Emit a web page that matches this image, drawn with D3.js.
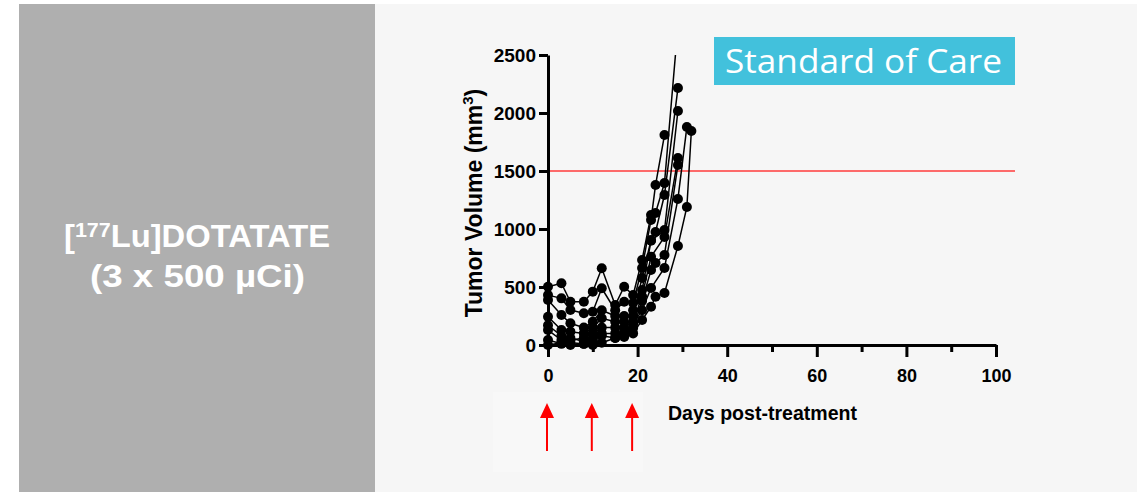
<html>
<head>
<title>Standard of Care tumor growth</title>
<style>
  body { margin: 0; background: #ffffff; }
  text { font-family: "Liberation Sans", Arial, sans-serif; }
</style>
</head>
<body>
<svg id="container" width="1143" height="492"></svg>
<script src="https://cdn.jsdelivr.net/npm/d3@7"></script>
<script>
// measurement days (x) and tumour volumes (mm3) per mouse, null = not measured
const days = [0, 3, 5, 8, 10, 12, 15, 17, 19, 21, 23, 24, 26, 29, 31, 32]
const mouse1 = [502, 532, 373, 373, 460, 661, 345, 502, 431, 733, 1121, 1138, 1396, 2750, null, null]
const mouse2 = [430, 402, 302, 273, 287, 489, 300, 373, 362, 664, 1078, 1379, 1810, null, null, null]
const mouse3 = [388, 259, 187, 150, 200, 300, 250, 250, 250, 578, 905, 974, 1293, 2215, null, null]
const mouse4 = [244, 129, 115, 100, 150, 230, 200, 200, 300, 474, 899, null, 991, 2017, null, null]
const mouse5 = [129, 43, 40, 60, 100, 150, 150, 150, 200, 420, 761, null, 931, 1612, null, null]
const mouse6 = [43, 10, 20, 10, 40, 80, 60, 120, 147, 380, 647, 707, 776, 1552, null, null]
const mouse7 = [170, 80, 60, 30, 60, 100, 100, 100, 180, 300, 491, null, 664, 1259, 1880, null]
const mouse8 = [0, 20, 0, 10, 0, 20, 60, 69, 100, 215, 330, 416, 448, 853, 1190, 1845]
const mice = [mouse1, mouse2, mouse3, mouse4, mouse5, mouse6, mouse7, mouse8]

const yTicks = [0, 500, 1000, 1500, 2000, 2500]
const xTicks = [0, 20, 40, 60, 80, 100]
const xMinorTicks = [10, 30, 50, 70, 90]
const doseDays = [0, 10, 19]
const threshold = 1500

const title = "Standard of Care"
const xLabel = "Days post-treatment"

let svg = d3.select("#container")

// panels
svg.append("rect").attr("x", 375).attr("y", 4).attr("width", 762).attr("height", 488).attr("fill", "#f6f6f6")
svg.append("rect").attr("x", 19).attr("y", 4).attr("width", 356).attr("height", 488).attr("fill", "#afafaf")
svg.append("rect").attr("x", 493).attr("y", 392).attr("width", 150).attr("height", 80).attr("fill", "#f8f8f8")

let left = svg.append("text")
    .attr("x", 64).attr("y", 247)
    .attr("textLength", 266)
    .attr("lengthAdjust", "spacingAndGlyphs")
    .attr("fill", "#ffffff")
    .style("font-size", "32px")
    .style("font-weight", "bold")
left.append("tspan").text("[")
left.append("tspan").attr("dy", -10).style("font-size", "21px").text("177")
left.append("tspan").attr("dy", 10).text("Lu]DOTATATE")
svg.append("text")
    .attr("x", 90).attr("y", 287)
    .attr("textLength", 215)
    .attr("lengthAdjust", "spacingAndGlyphs")
    .attr("fill", "#ffffff")
    .style("font-size", "32px")
    .style("font-weight", "bold")
    .text("(3 x 500 \u00b5Ci)")

// scales
let x = d3.scaleLinear().domain([0, 100]).range([548, 996])
let y = d3.scaleLinear().domain([0, 2500]).range([345, 55])

// threshold line
svg.append("line")
    .attr("x1", x(0)).attr("x2", 1015)
    .attr("y1", y(threshold)).attr("y2", y(threshold))
    .attr("stroke", "#ff3b3b").attr("stroke-width", 1.5)

// title box
svg.append("rect").attr("x", 714).attr("y", 37).attr("width", 301).attr("height", 48).attr("fill", "#42c1dc")
svg.append("text")
    .attr("x", 725).attr("y", 73)
    .attr("fill", "#ffffff")
    .attr("textLength", 277)
    .attr("lengthAdjust", "spacingAndGlyphs")
    .style("font-family", "'Open Sans', 'Noto Sans', sans-serif")
    .style("font-size", "33px")
    .text(title)

// data
svg.append("clipPath").attr("id", "plotclip")
    .append("rect").attr("x", 530).attr("y", y(2500)).attr("width", 480).attr("height", 300)

let plot = svg.append("g").attr("clip-path", "url(#plotclip)")
let line = d3.line().x(d => x(d.day)).y(d => y(d.v))
let series = mice.map(m => days.map((d, i) => ({ day: d, v: m[i] })).filter(p => p.v !== null))

plot.selectAll(".mouse")
    .data(series)
    .enter()
    .append("path")
    .attr("d", line)
    .attr("fill", "none")
    .attr("stroke", "#000")
    .attr("stroke-width", 1.5)

plot.selectAll(".dot")
    .data(series.flat())
    .enter()
    .append("circle")
    .attr("cx", d => x(d.day))
    .attr("cy", d => y(d.v))
    .attr("r", 5)
    .attr("fill", "#000")

// axes
let yAxis = svg.append("g")
    .attr("transform", `translate(${x(0)},0)`)
    .call(d3.axisLeft(y).tickValues(yTicks).tickFormat(d3.format("d")).tickSize(9).tickSizeOuter(0).tickPadding(3))
let xAxis = svg.append("g")
    .attr("transform", `translate(0,${y(0)})`)
    .call(d3.axisBottom(x).tickValues(xTicks).tickSize(12).tickSizeOuter(0).tickPadding(12))
let xMinor = svg.append("g")
    .attr("transform", `translate(0,${y(0)})`)
    .call(d3.axisBottom(x).tickValues(xMinorTicks).tickSize(7).tickFormat(""))
xMinor.select(".domain").remove()

svg.selectAll(".domain, .tick line").attr("stroke", "#000").attr("stroke-width", 3)
yAxis.selectAll("text").style("font-size", "19px").style("font-weight", "bold").attr("fill", "#000")
xAxis.selectAll("text").style("font-size", "18px").style("font-weight", "bold").attr("fill", "#000")

let yTitle = svg.append("text")
    .attr("transform", "translate(482,203) rotate(-90)")
    .attr("text-anchor", "middle")
    .style("font-size", "23px")
    .style("font-weight", "bold")
yTitle.append("tspan").text("Tumor Volume (mm")
yTitle.append("tspan").attr("dy", -9).style("font-size", "15px").text("3")
yTitle.append("tspan").attr("dy", 9).text(")")

svg.append("text")
    .attr("x", 668).attr("y", 420)
    .attr("textLength", 189)
    .attr("lengthAdjust", "spacingAndGlyphs")
    .style("font-size", "19.5px")
    .style("font-weight", "bold")
    .text(xLabel)

// dosing arrows
let arrows = svg.selectAll(".dose")
    .data(doseDays)
    .enter()
    .append("g")
    .attr("transform", d => `translate(${x(d) - 1},0)`)
arrows.append("path")
    .attr("d", "M0,403 L7,418 L-7,418 Z")
    .attr("fill", "#ff0000")
arrows.append("line")
    .attr("x1", 0).attr("x2", 0).attr("y1", 417).attr("y2", 451)
    .attr("stroke", "#ff0000").attr("stroke-width", 2)
</script>
</body>
</html>
